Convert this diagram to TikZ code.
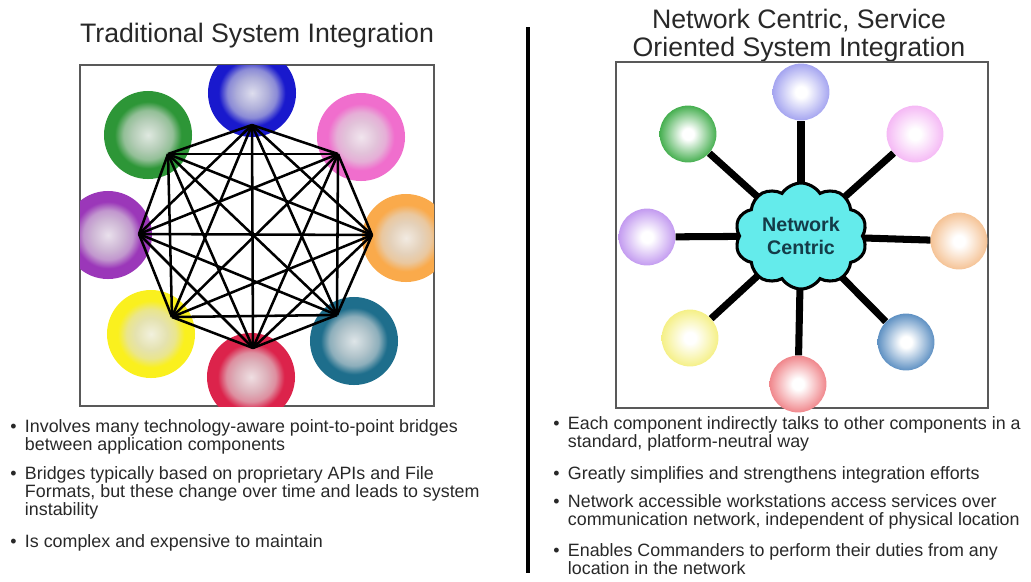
\documentclass[tikz,border=0pt]{standalone}
\usepackage{fontspec}
\setmainfont{Liberation Sans}
\usetikzlibrary{shapes.symbols}

\definecolor{ink}{RGB}{40,40,40}
\definecolor{cloudfill}{RGB}{100,235,235}
\definecolor{cloudtext}{RGB}{20,60,72}
% traditional panel
\definecolor{tblue}{RGB}{25,25,205}
\definecolor{tpink}{RGB}{240,110,205}
\definecolor{tgreen}{RGB}{45,150,55}
\definecolor{tpurple}{RGB}{155,55,185}
\definecolor{torange}{RGB}{250,170,75}
\definecolor{tteal}{RGB}{30,110,140}
\definecolor{tred}{RGB}{220,35,75}
\definecolor{tyellow}{RGB}{250,240,30}
% network centric panel
\definecolor{nlav}{RGB}{165,165,240}
\definecolor{ngreen}{RGB}{70,175,80}
\definecolor{npink}{RGB}{245,185,245}
\definecolor{npurple}{RGB}{195,155,240}
\definecolor{norange}{RGB}{245,195,150}
\definecolor{nyellow}{RGB}{245,240,135}
\definecolor{nsteel}{RGB}{95,145,195}
\definecolor{nsalmon}{RGB}{240,135,140}

\colorlet{ballcol}{blue}
\pgfdeclareradialshading[ballcol]{oldshade}{\pgfpoint{0bp}{0bp}}{%
  color(0bp)=(ballcol!10!white!90!gray); color(9bp)=(ballcol!30!white!80!gray);
  color(14bp)=(ballcol!50!white!85!gray); color(19bp)=(ballcol);
  color(25bp)=(ballcol); color(50bp)=(ballcol)}
\pgfdeclareradialshading[ballcol]{newshade}{\pgfpoint{0bp}{0bp}}{%
  color(0bp)=(white); color(5bp)=(white); color(25bp)=(ballcol);
  color(50bp)=(ballcol)}

\newcommand\bulletlines[1]{\begin{tabular}[t]{@{}l@{\hspace{6pt}}l@{}}\textbullet & #1\end{tabular}}

\tikzset{
  ballcolor/.code={\colorlet{ballcol}{#1}},
  oldbub/.style={circle, inner sep=0pt, minimum size=2.2cm, shade, shading=oldshade, ballcolor=#1},
  newbub/.style={circle, inner sep=0pt, minimum size=1.42cm, shade, shading=newshade, ballcolor=#1},
  boxline/.style={draw=black!65, line width=0.9pt},
  heading/.style={font=\fontsize{19}{20.6}\selectfont, text=ink, inner sep=0pt, anchor=base},
  bullets/.style={font=\fontsize{12.7}{12.8}\selectfont, text=ink, inner sep=0pt, anchor=base west},
  bridge/.style={draw=black, line width=1.8pt}
}

\begin{document}
\begin{tikzpicture}[x=0.025cm, y=-0.025cm]
    \useasboundingbox (0,0) rectangle (1031,581);

    % headings
    \node[heading] (ltitle) at (257,42) {Traditional System Integration};
    \node[heading] (rtitle) at (799,28) {\begin{tabular}[t]{@{}c@{}}Network Centric, Service\\Oriented System Integration\end{tabular}};
    \draw[line width=2.6pt] (528,27) -- (528,573);

    % traditional: every component bridged to every other
    \draw[boxline] (80,65) rectangle (434,406);
    \begin{scope}
    \clip (80,65) rectangle (434,406);
    \node[oldbub=tblue] (a) at (252,93) {};
    \node[oldbub=tpink] (b) at (361,137) {};
    \node[oldbub=torange] (c) at (406,238) {};
    \node[oldbub=tteal] (d) at (354,341) {};
    \node[oldbub=tred] (e) at (251,377) {};
    \node[oldbub=tyellow] (f) at (151,334) {};
    \node[oldbub=tpurple] (g) at (108,235) {};
    \node[oldbub=tgreen] (h) at (148,135) {};
    \end{scope}
    \coordinate (v1) at (252,125);
    \coordinate (v2) at (338,154);
    \coordinate (v3) at (372,235);
    \coordinate (v4) at (337,315);
    \coordinate (v5) at (253,348);
    \coordinate (v6) at (172,317);
    \coordinate (v7) at (139,234);
    \coordinate (v8) at (168,154);
    \foreach \i in {1,...,7} {
        \pgfmathtruncatemacro{\k}{\i+1}
        \foreach \j in {\k,...,8} \draw[bridge] (v\i) -- (v\j);
    }

    % network centric: every component talks to the hub
    \draw[boxline] (616,62) rectangle (988,408);
    \node[newbub=nlav] (p) at (801,92) {};
    \node[newbub=npink] (q) at (915,134) {};
    \node[newbub=norange] (r) at (959,241) {};
    \node[newbub=nsteel] (s) at (906,342) {};
    \node[newbub=nsalmon] (t) at (798,384) {};
    \node[newbub=nyellow] (u) at (690,338) {};
    \node[newbub=npurple] (w) at (647,237) {};
    \node[newbub=ngreen] (z) at (688,134) {};
    \coordinate (hubc) at (801,236);
    \begin{scope}[every edge/.style={draw=black, line width=5pt}]
    \path (hubc) edge (p);
    \path (hubc) edge (q);
    \path (hubc) edge (r);
    \path (hubc) edge (s);
    \path (hubc) edge (t);
    \path (hubc) edge (u);
    \path (hubc) edge (w);
    \path (hubc) edge (z);
    \end{scope}
    \node[cloud, cloud puffs=10, cloud puff arc=115, aspect=1.25, draw=black, line width=2.2pt,
          fill=cloudfill, minimum width=3.3cm, minimum height=2.65cm, inner sep=0pt,
          font=\bfseries\fontsize{14}{16.4}\selectfont, text=cloudtext, align=center] (hub) at (hubc) {Network\\Centric};

    % bullet text
    \node[bullets] (l1) at (10,432) {\bulletlines{Involves many technology-aware point-to-point bridges\\ & between application components}};
    \node[bullets] (l2) at (10,479) {\bulletlines{Bridges typically based on proprietary APIs and File\\ & Formats, but these change over time and leads to system\\ & instability}};
    \node[bullets] (l3) at (10,547) {\bulletlines{Is complex and expensive to maintain}};
    \node[bullets] (r1) at (553,429) {\bulletlines{Each component indirectly talks to other components in a\\ & standard, platform-neutral way}};
    \node[bullets] (r2) at (553,479) {\bulletlines{Greatly simplifies and strengthens integration efforts}};
    \node[bullets] (r3) at (553,507) {\bulletlines{Network accessible workstations access services over\\ & communication network, independent of physical location}};
    \node[bullets] (r4) at (553,556) {\bulletlines{Enables Commanders to perform their duties from any\\ & location in the network}};
\end{tikzpicture}
\end{document}
